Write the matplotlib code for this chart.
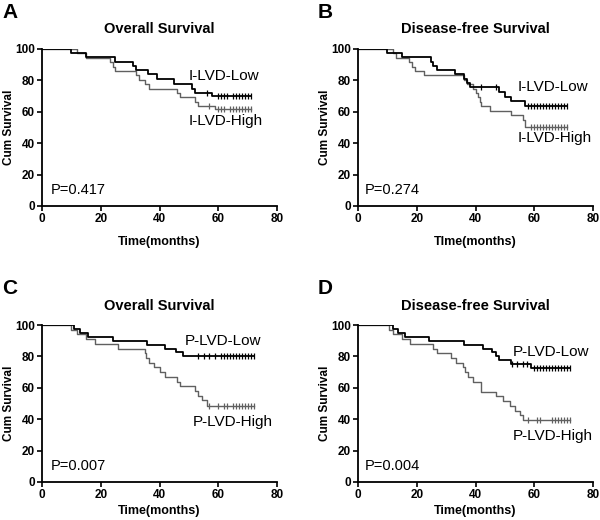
import numpy as np
import matplotlib
matplotlib.use("Agg")
import matplotlib.pyplot as plt

plt.rcParams['font.family'] = ['Liberation Sans', 'DejaVu Sans']

# ---- data: event times (months) and survival levels (%)
# A: overall survival, I-LVD
a_low_t = [10, 15, 25, 31, 32, 36, 39, 45, 51, 52, 58]
a_low_s = [97.3, 94.6, 91.9, 89.2, 86.5, 83.8, 80.8, 77.8, 74.8, 72.0, 70.0]
a_low_c = [56, 60, 61, 62, 63, 65, 66, 67, 68, 69, 70, 71]
a_high_t = [12, 15, 23, 24, 25, 32, 33, 35, 36.5, 46, 47, 52, 53, 59]
a_high_s = [97.2, 94.4, 91.6, 88.8, 86.0, 83.2, 80.4, 77.6, 74.8, 72.0, 69.2, 66.4, 63.6, 61.6]
a_high_c = [57, 60, 61, 62, 64, 65, 66, 67, 68, 69, 70, 71]

# B: disease-free survival, I-LVD
b_low_t = [10, 15, 25, 25.5, 27, 33, 36, 37, 38, 48, 50, 52, 57]
b_low_s = [97.3, 94.6, 91.9, 89.2, 86.5, 83.8, 81.1, 78.4, 75.7, 72.7, 69.7, 66.7, 63.7]
b_low_c = [42, 47, 58, 59, 60, 61, 62, 63, 64, 65, 66, 67, 68, 69, 70, 71]
b_high_t = [12, 13, 17.5, 18.5, 19.5, 22.5, 36, 37, 39, 40, 41, 41.5, 42, 45, 52, 56, 57]
b_high_s = [97.2, 94.4, 91.6, 88.8, 86.0, 83.2, 80.4, 77.6, 74.8, 72.0, 69.2, 66.4, 63.6,
            60.8, 58.0, 55.0, 50.4]
b_high_c = [59, 60, 61, 62, 63, 64, 65, 66, 67, 68, 69, 70, 71]

# C: overall survival, P-LVD
c_low_t = [11, 13, 15.6, 24, 35.6, 42, 45.6, 48]
c_low_s = [97.5, 95.0, 92.5, 90.0, 87.5, 85.0, 82.5, 80.0]
c_low_c = [53, 55, 57, 59, 61, 62, 63, 64, 65, 66, 67, 68, 69, 70, 71, 72]
c_high_t = [10, 12, 15, 18, 26, 35, 35.5, 36.5, 38, 40, 42, 46, 47, 52, 53, 54.5, 56]
c_high_s = [97, 94, 91, 88, 85, 82, 79, 76, 73, 70, 67, 64, 61, 58, 55, 52, 48.5]
c_high_c = [57, 60, 62, 63, 65, 66, 67, 68, 69, 70, 71, 72]

# D: disease-free survival, P-LVD
d_low_t = [12, 13.5, 16, 24, 36, 42.5, 45.7, 47, 48, 52, 59]
d_low_s = [97.5, 95.0, 92.5, 90.0, 87.5, 85.0, 82.5, 80.0, 77.5, 75.0, 72.5]
d_low_c = [52.5, 54, 56, 57.5, 60, 61, 62, 63, 64, 65, 66, 67, 68, 69, 70, 71, 72]
d_high_t = [10.5, 12, 15, 17.6, 25.5, 27, 31.8, 33.5, 35.8, 36.3, 37.5, 39.2, 42, 47,
            49.4, 51.7, 53.4, 55, 56.2]
d_high_s = [97, 94, 91, 88, 85, 82, 79, 76, 73, 70, 67, 64, 57.5, 54.5, 51.5, 48.5,
            45.5, 42.5, 39.5]
d_high_c = [58, 61, 62, 66, 67, 68, 69, 70, 71, 72]

panels = [
    ('A', 'Overall Survival', 'Time(months)', 'P=0.417',
     (a_low_t, a_low_s, a_low_c), (a_high_t, a_high_s, a_high_c),
     'I-LVD-Low', (49.8, 82.6), 'I-LVD-High', (49.8, 54)),
    ('B', 'Disease-free Survival', 'TIme(months)', 'P=0.274',
     (b_low_t, b_low_s, b_low_c), (b_high_t, b_high_s, b_high_c),
     'I-LVD-Low', (54.5, 76), 'I-LVD-High', (54.5, 43)),
    ('C', 'Overall Survival', 'Time(months)', 'P=0.007',
     (c_low_t, c_low_s, c_low_c), (c_high_t, c_high_s, c_high_c),
     'P-LVD-Low', (48.7, 90), 'P-LVD-High', (51.3, 38)),
    ('D', 'Disease-free Survival', 'Time(months)', 'P=0.004',
     (d_low_t, d_low_s, d_low_c), (d_high_t, d_high_s, d_high_c),
     'P-LVD-Low', (52.8, 82.5), 'P-LVD-High', (52.8, 29)),
]

# axes boxes in pixels (left, top) for a 600x520 figure
boxes = [(42, 49), (358, 49), (42, 325), (358, 325)]
W, H = 600, 520
aw, ah = 235, 157


def km(ax, t, s, c, color, lw):
    end = max(c[-1], t[-1])
    x = [0] + list(t) + [end]
    y = [100] + list(s) + [s[-1]]
    ax.step(x, y, where='post', color=color, lw=lw)
    idx = np.searchsorted(t, c, side='right')
    lev = np.array([100] + list(s))[idx]
    ax.plot(c, lev, ls='none', marker='|', ms=4, mew=0.9, color=color)


fig = plt.figure(figsize=(6, 5.2), dpi=100)

for (letter, title, xlab, ptxt, low, high, lowlab, lowpos, highlab, highpos), (l, t) in zip(panels, boxes):
    ax = fig.add_axes([l / W, 1 - (t + ah) / H, aw / W, ah / H])
    km(ax, *high, '#606060', 1.0)
    km(ax, *low, 'black', 1.3)

    ax.set_xlim(0, 80)
    ax.set_ylim(0, 100)
    ax.set_xticks([0, 20, 40, 60, 80])
    ax.set_yticks([0, 20, 40, 60, 80, 100])
    for side in ['top', 'right']:
        ax.spines[side].set_visible(False)
    for side in ['left', 'bottom']:
        ax.spines[side].set_linewidth(1.3)
    ax.tick_params(direction='out', length=3.5, width=1.2, labelsize=8.5, pad=1.5)
    for lab in ax.get_xticklabels() + ax.get_yticklabels():
        lab.set_fontweight('bold')

    ax.set_ylabel('Cum Survival', fontsize=8.5, fontweight='bold')
    ax.yaxis.set_label_coords(-0.115, 0.5)
    ax.set_xlabel(xlab, fontsize=9, fontweight='bold')
    ax.xaxis.set_label_coords(0.5, -0.19 if t < 200 else -0.145)

    ax.text(0.5, 1.125 if t < 200 else 1.118, title, transform=ax.transAxes,
            ha='center', va='center', fontsize=10.5, fontweight='bold')
    ax.text(lowpos[0], lowpos[1], lowlab, fontsize=11, va='center', ha='left')
    ax.text(highpos[0], highpos[1], highlab, fontsize=11, va='center', ha='left')
    ax.text(3.0 if letter in 'AC' else 2.3, 10.5, ptxt, fontsize=10.5, va='center', ha='left')

    fig.text((l - 40) / W, 1 - (t - 46) / H, letter, fontsize=15, fontweight='bold',
             ha='left', va='top')

fig.savefig('out.png', dpi=100)
